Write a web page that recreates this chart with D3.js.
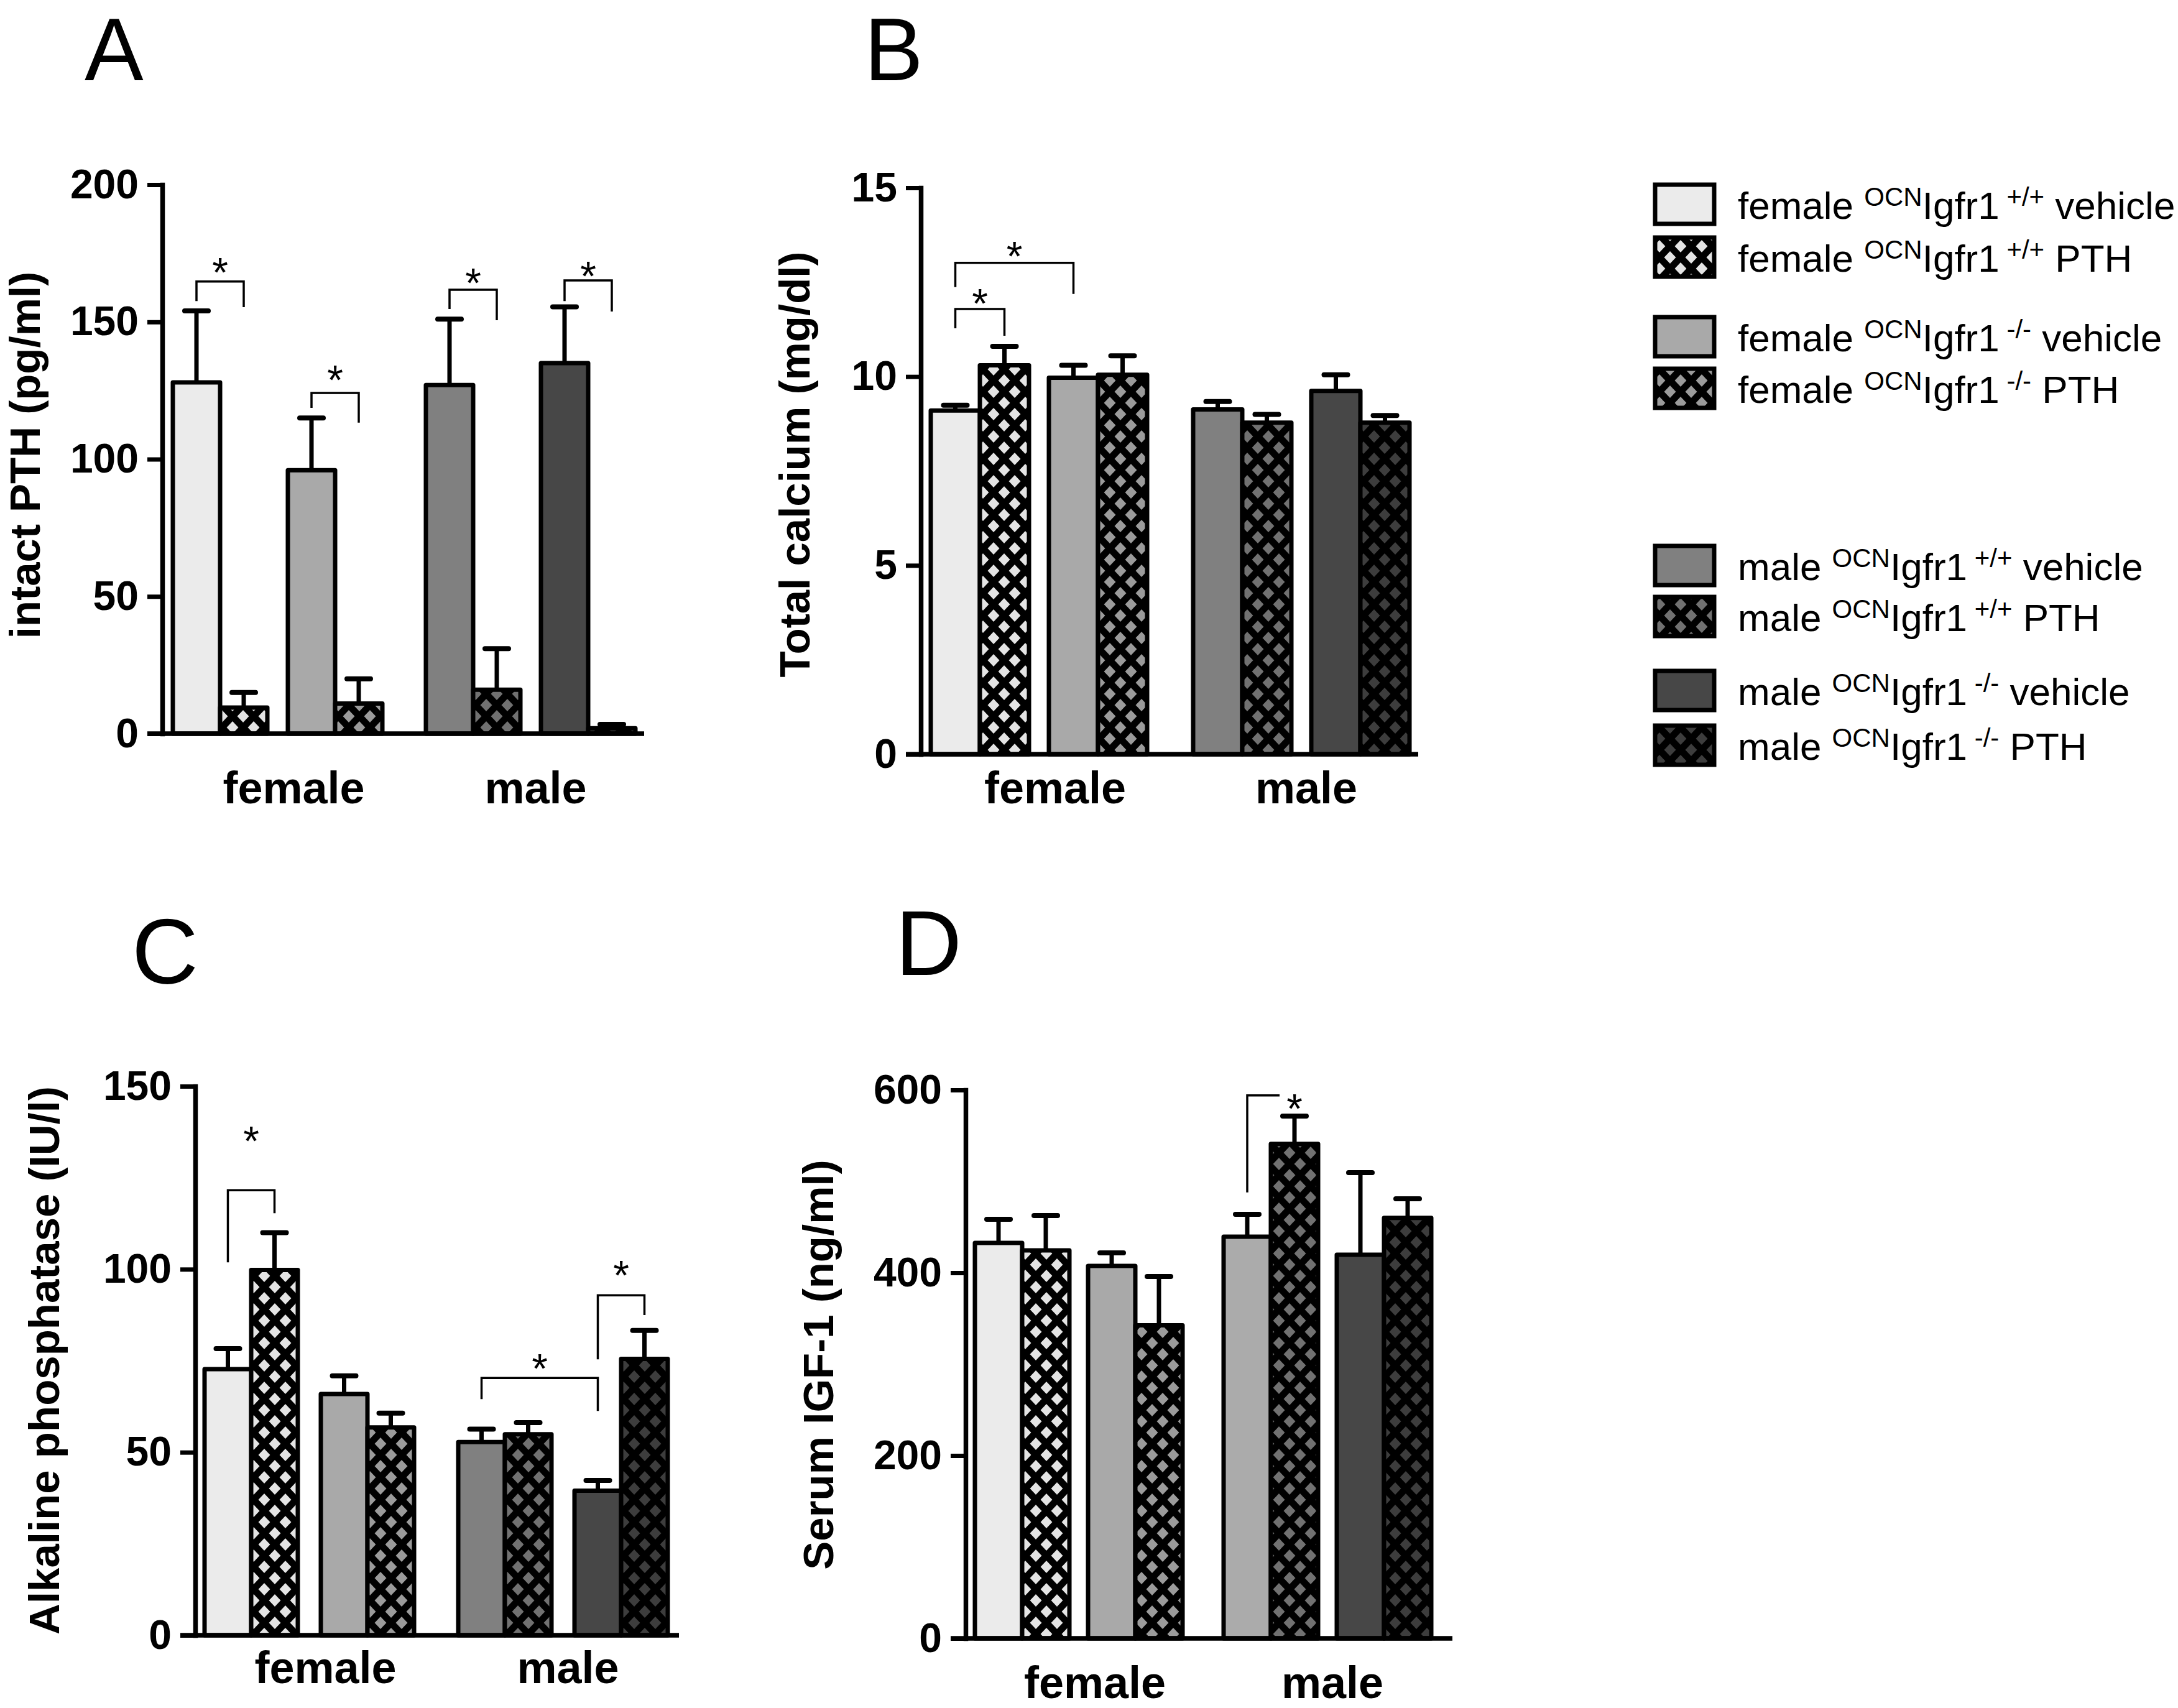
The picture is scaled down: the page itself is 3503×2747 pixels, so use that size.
<!DOCTYPE html>
<html><head><meta charset="utf-8">
<script src="https://cdnjs.cloudflare.com/ajax/libs/d3/7.8.5/d3.min.js"></script>
<style>
html,body{margin:0;padding:0;background:#fff;}
svg{display:block;}
</style>
</head><body>
<svg id="fig" width="3503" height="2747" xmlns="http://www.w3.org/2000/svg"></svg>
<script>
// ---------------- DATA ----------------
const categories = ["female", "male"];
const seriesSex = ["female","female","female","female","male","male","male","male"];
const seriesGenotype = ["+/+","+/+","-/-","-/-","+/+","+/+","-/-","-/-"];
const seriesTreatment = ["vehicle","PTH","vehicle","PTH","vehicle","PTH","vehicle","PTH"];

// Panel A: intact PTH (pg/ml)
const pthMean = [128, 9.5, 96, 11, 127, 16, 135, 2];
const pthSem  = [26, 5.5, 19, 9, 24, 15, 20.5, 1.4];
const pthTicks = [0, 50, 100, 150, 200];
// Panel B: total calcium (mg/dl)
const caMean = [9.1, 10.3, 9.97, 10.05, 9.13, 8.78, 9.62, 8.78];
const caSem  = [0.14, 0.5, 0.33, 0.5, 0.21, 0.22, 0.43, 0.19];
const caTicks = [0, 5, 10, 15];
// Panel C: alkaline phosphatase (IU/l)
const alpMean = [72.7, 99.8, 65.9, 56.8, 52.8, 54.9, 39.5, 75.5];
const alpSem  = [5.6, 10.2, 5.0, 3.9, 3.5, 3.2, 2.8, 7.8];
const alpTicks = [0, 50, 100, 150];
// Panel D: serum IGF-1 (ng/ml)
const igfMean = [432.7, 424.5, 407.5, 342.5, 439.5, 541, 419.7, 460];
const igfSem  = [25.8, 38.1, 14.3, 53.5, 24.5, 30.4, 89.8, 21];
const igfTicks = [0, 200, 400, 600];

// significance brackets: bar a vs bar b, levels in data units
const pthSig = [
  {a:0, b:1, top:164.7, left:157.6, right:155.4, star:171.5},
  {a:2, b:3, top:124.1, left:118.7, right:113.3, star:132.3},
  {a:4, b:5, top:161.7, left:154.7, right:150.6, star:167.6},
  {a:6, b:7, top:165.1, left:157.6, right:153.8, star:170.1}
];
const caSig = [
  {a:0, b:1, top:11.79, left:11.28, right:11.08, star:12.18},
  {a:0, b:2, top:13.01, left:12.37, right:12.19, star:13.44}
];
const alpSig = [
  {a:0, b:1, top:121.6, left:101.9, right:115.3, star:137.6},
  {a:4, b:6, top:70.3, left:64.5, right:61.3, star:75.4},
  {a:6, b:7, top:92.9, left:75.4, right:87.5, star:100.9}
];
const igfSig = [
  {a:4, b:5, top:594, left:488, right:null, star:590}
];

// ---------------- STYLE / LAYOUT ----------------
const FONT = "'Liberation Sans', Arial, Helvetica, sans-serif";
const vehicleColors = ["#ebebeb", "#a9a9a9", "#808080", "#474747"];
const pthColors     = ["#e4e4e4", "#9b9b9b", "#717171", "#3d3d3d"];

const panels = [
  {letter:"A", title:"intact PTH (pg/ml)", mean:pthMean, sem:pthSem, ticks:pthTicks, sig:pthSig,
   axisX:261, y0:1180, yTop:297, first:278, bw:76, g1:33, g2:70, xEnd:1036,
   titleX:64, titleY:732, letterX:136, letterY:129, letterSize:142, catY:1292, override:{}},
  {letter:"B", title:"Total calcium (mg/dl)", mean:caMean, sem:caSem, ticks:caTicks, sig:caSig,
   axisX:1481, y0:1213, yTop:302, first:1497, bw:79, g1:32, g2:74, xEnd:2281,
   titleX:1302, titleY:747, letterX:1390, letterY:129, letterSize:142, catY:1292, override:{}},
  {letter:"C", title:"Alkaline phosphatase (IU/l)", mean:alpMean, sem:alpSem, ticks:alpTicks, sig:alpSig,
   axisX:314, y0:2630, yTop:1747, first:329, bw:75, g1:37, g2:71, xEnd:1092,
   titleX:95, titleY:2188, letterX:212, letterY:1582, letterSize:148, catY:2707, override:{}},
  {letter:"D", title:"Serum IGF-1 (ng/ml)", mean:igfMean, sem:igfSem, ticks:igfTicks, sig:igfSig,
   axisX:1553, y0:2635, yTop:1753, first:1568, bw:76, g1:30, g2:66, xEnd:2336,
   titleX:1340, titleY:2195, letterX:1440, letterY:1568, letterSize:148, catY:2731, override:{4:"#ababab"}}
];
const catOffset = [26, 8];

const legendTops = [297, 382, 510, 593, 878, 960, 1079, 1167];

// ---------------- DRAW ----------------
const svg = d3.select("#fig");
svg.append("rect").attr("width",3503).attr("height",2747).attr("fill","#fff");
const defs = svg.append("defs");

function hatchId(color){
  const id = "hatch" + color.replace("#","");
  if (defs.select("#"+id).empty()){
    const p = defs.append("pattern").attr("id", id)
      .attr("patternUnits","userSpaceOnUse").attr("width",34).attr("height",36);
    p.append("rect").attr("width",34).attr("height",36).attr("fill",color);
    p.append("path").attr("d","M0,0L34,36M34,0L0,36")
      .attr("stroke","#000").attr("stroke-width",11).attr("stroke-linecap","square").attr("fill","none");
  }
  return "url(#"+id+")";
}

function seriesFill(i, override){
  const pair = Math.floor(i/2);
  if (override && override[i]) return override[i];
  return seriesTreatment[i] === "PTH" ? hatchId(pthColors[pair]) : vehicleColors[pair];
}

panels.forEach(P => {
  const g = svg.append("g").attr("font-family", FONT);
  const yMax = P.ticks[P.ticks.length-1];
  const y = d3.scaleLinear().domain([0, yMax]).range([P.y0, P.yTop]);
  const xu = d3.scaleLinear().domain([0,1]).range([P.first, P.first + P.bw]);
  const unit = i => { const p = Math.floor(i/2), s = Math.floor(i/4);
    return i + ((p - s) * P.g1 + s * P.g2) / P.bw; };
  const xL = i => xu(unit(i));
  const xC = i => xu(unit(i) + 0.5);

  // panel letter
  g.append("text").attr("x",P.letterX).attr("y",P.letterY).attr("font-size",P.letterSize)
    .attr("fill","#000").text(P.letter);

  // bars
  const idx = d3.range(P.mean.length);
  g.append("g").selectAll("rect").data(idx).join("rect")
    .attr("x", i => xL(i)).attr("width", P.bw)
    .attr("y", i => y(P.mean[i])).attr("height", i => P.y0 - y(P.mean[i]))
    .attr("fill", i => seriesFill(i, P.override))
    .attr("stroke","#000").attr("stroke-width",7).attr("stroke-linejoin","round");

  // error bars (upper only)
  const eg = g.append("g").attr("stroke","#000");
  eg.selectAll("line.v").data(idx).join("line").attr("class","v")
    .attr("x1", xC).attr("x2", xC)
    .attr("y1", i => y(P.mean[i])).attr("y2", i => y(P.mean[i] + P.sem[i]))
    .attr("stroke-width",7);
  eg.selectAll("line.c").data(idx).join("line").attr("class","c")
    .attr("x1", i => xC(i) - 19).attr("x2", i => xC(i) + 19)
    .attr("y1", i => y(P.mean[i] + P.sem[i])).attr("y2", i => y(P.mean[i] + P.sem[i]))
    .attr("stroke-width",8).attr("stroke-linecap","round");

  // y axis
  const axis = d3.axisLeft(y).tickValues(P.ticks).tickSize(24).tickSizeOuter(0).tickPadding(14)
    .tickFormat(d3.format("d"));
  const ag = g.append("g").attr("transform",`translate(${P.axisX},0)`).call(axis);
  ag.attr("font-family", FONT).attr("font-size",66).attr("font-weight","bold");
  ag.select(".domain").attr("stroke","#000").attr("stroke-width",7.5).attr("stroke-linecap","square");
  ag.selectAll(".tick line").attr("stroke","#000").attr("stroke-width",7);
  ag.selectAll(".tick text").attr("fill","#000");

  // x axis line
  g.append("line").attr("x1", P.axisX - 24).attr("x2", P.xEnd)
    .attr("y1", P.y0).attr("y2", P.y0).attr("stroke","#000").attr("stroke-width",7.5);

  // category labels
  categories.forEach((c, k) => {
    const cx = (xL(k*4) + xL(k*4+3) + P.bw) / 2 + catOffset[k];
    g.append("text").attr("x", cx).attr("y", P.catY).attr("text-anchor","middle")
      .attr("font-size",72).attr("font-weight","bold").attr("fill","#000").text(c);
  });

  // y title
  g.append("text").attr("transform",`translate(${P.titleX},${P.titleY}) rotate(-90)`)
    .attr("text-anchor","middle").attr("font-size",69).attr("font-weight","bold")
    .attr("fill","#000").text(P.title);

  // significance brackets
  P.sig.forEach(s => {
    const xa = xC(s.a), xb = xC(s.b);
    let d;
    if (s.right === null) d = `M${xa},${y(s.left)}V${y(s.top)}H${xb - 24}`;
    else d = `M${xa},${y(s.left)}V${y(s.top)}H${xb}V${y(s.right)}`;
    g.append("path").attr("d", d).attr("fill","none").attr("stroke","#000").attr("stroke-width",3.5);
    const sx = s.right === null ? xb : (xa + xb) / 2;
    g.append("text").attr("x", sx).attr("y", y(s.star) + 38).attr("text-anchor","middle")
      .attr("font-size",66).attr("fill","#000").text("*");
  });
});

// ---------------- LEGEND ----------------
const lg = svg.append("g").attr("font-family", FONT);
d3.range(8).forEach(i => {
  const top = legendTops[i];
  lg.append("rect").attr("x",2662).attr("y",top).attr("width",95).attr("height",63)
    .attr("fill", seriesFill(i, {})).attr("stroke","#000").attr("stroke-width",7);
  const t = lg.append("text").attr("x",2795).attr("y",top + 55).attr("font-size",62)
    .attr("fill","#000").attr("xml:space","preserve").style("white-space","pre");
  t.append("tspan").text(seriesSex[i] + " ");
  t.append("tspan").attr("font-size",42).attr("dy",-21).text("OCN");
  t.append("tspan").attr("dy",21).text("Igfr1");
  t.append("tspan").attr("font-size",42).attr("dy",-21).text(" " + seriesGenotype[i]);
  t.append("tspan").attr("dy",21).text(" " + seriesTreatment[i]);
});
</script>
</body></html>
